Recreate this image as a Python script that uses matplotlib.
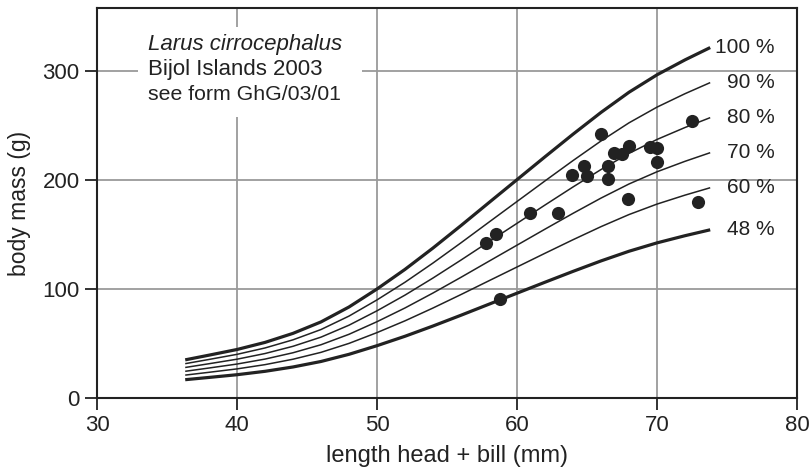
import matplotlib
matplotlib.use("Agg")
import matplotlib.pyplot as plt
import numpy as np

plt.rcParams['font.family'] = ['Liberation Sans', 'DejaVu Sans']

# reference (100 %) curve
curve_x = [36.3, 38, 40, 42, 44, 46, 48, 50, 52, 54, 56, 58, 60, 62, 64, 66, 68, 70, 72, 73.8]
curve_100 = [35, 39.3, 44.5, 51, 59.3, 69.8, 83.5, 100, 118, 137.6, 158.2, 179.3, 200.3,
             221.3, 242, 262, 280.5, 296.5, 310.2, 321.5]
percent_levels = [100, 90, 80, 70, 60, 48]
percent_labels = ["100 %", "90 %", "80 %", "70 %", "60 %", "48 %"]

# measured birds
bird_length = [57.8, 58.5, 58.8, 60.9, 62.9, 63.9, 64.8, 65.0, 66.0, 66.5, 66.5,
               66.9, 67.5, 68.0, 67.9, 69.5, 70.0, 70.0, 72.5, 72.9]
bird_mass = [142.5, 150.5, 91, 170, 170, 205, 212.8, 203.4, 242, 212.8, 201,
             225, 223.5, 230.8, 182.3, 230, 229, 216.2, 254, 180]

x_ticks = [30, 40, 50, 60, 70, 80]
y_ticks = [0, 100, 200, 300]
title_lines = ["Larus cirrocephalus", "Bijol Islands 2003", "see form GhG/03/01"]

dark = '#222222'
fs = 16
fig = plt.figure(figsize=(8.12, 4.75), dpi=100)
ax = fig.add_axes([97/812, 77/475, 700/812, 390/475])
ax.set_xlim(30, 80)
ax.set_ylim(0, 357.8)

for xt in x_ticks:
    ax.axvline(xt, color='#9a9a9a', lw=1.3, zorder=0)
for yt in y_ticks:
    ax.axhline(yt, color='#9a9a9a', lw=1.3, zorder=0)

cx = np.array(curve_x)
c100 = np.array(curve_100)
for p, lab in zip(percent_levels, percent_labels):
    yy = c100 * p / 100.0
    lw = 2.3 if p in (100, 48) else 1.1
    ax.plot(cx, yy, color=dark, lw=lw, zorder=3, solid_capstyle='butt',
            solid_joinstyle='round')
    ax.text(78.4, yy[-1] + 0.5, lab, ha='right', va='center', fontsize=15,
            color=dark, zorder=2)

ax.scatter(bird_length, bird_mass, s=90, color=dark, zorder=4, linewidths=0)

# white box behind the title text
ax.add_patch(plt.Rectangle((32.9, 257.8), 16.0, 82.6, facecolor='white',
                           edgecolor='none', zorder=1))
tx = 33.65
ax.text(tx, 324.5, title_lines[0], fontsize=fs, style='italic', color=dark,
        va='center', ha='left', zorder=2)
ax.text(tx, 301.5, title_lines[1], fontsize=fs, color=dark, va='center', ha='left', zorder=2)
ax.text(tx, 278.0, title_lines[2], fontsize=15.3, color=dark, va='center', ha='left', zorder=2)

ax.set_xticks(x_ticks)
ax.set_yticks(y_ticks)
ax.tick_params(direction='out', length=8.5, width=1.3, color=dark, labelsize=fs,
               labelcolor=dark, pad=4)
for s in ax.spines.values():
    s.set_color(dark)
    s.set_linewidth(1.5)
ax.set_xlabel("length head + bill (mm)", fontsize=17, color=dark, labelpad=6)
ax.set_ylabel("body mass (g)", fontsize=16.5, color=dark, labelpad=8)

fig.savefig("out.png", dpi=100)
